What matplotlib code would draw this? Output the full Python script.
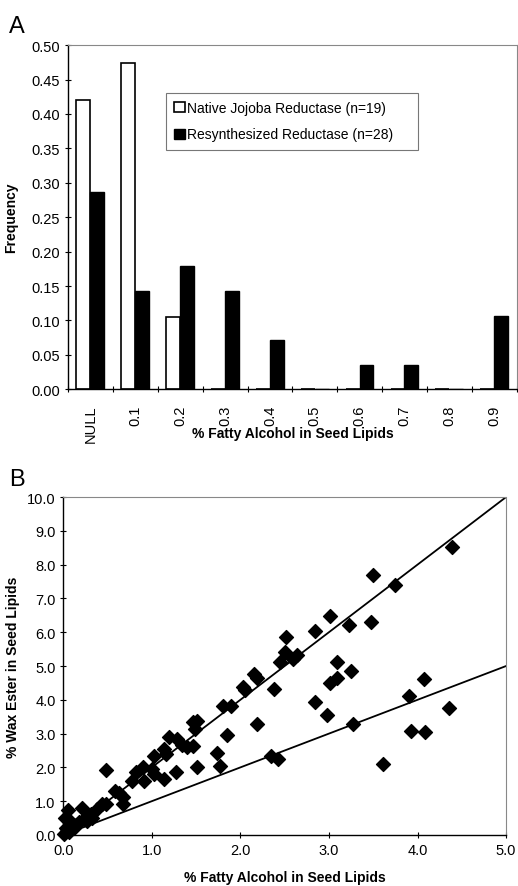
import matplotlib.pyplot as plt
import numpy as np

plt.rcParams['font.family'] = ['Liberation Sans', 'DejaVu Sans']

# Panel A: frequency distribution
categories = ["NULL", "0.1", "0.2", "0.3", "0.4", "0.5", "0.6", "0.7", "0.8", "0.9"]
native = [0.421, 0.474, 0.105, 0, 0, 0, 0, 0, 0, 0]
resynth = [0.286, 0.143, 0.179, 0.143, 0.071, 0, 0.036, 0.036, 0, 0.107]

# Panel B: fatty alcohol vs wax ester
fatty = [4.39, 3.50, 3.75, 3.01, 3.47, 3.23, 2.84, 2.52, 2.50, 2.45, 2.60, 2.64,
         3.09, 3.25, 3.09, 3.01, 4.07, 3.90, 2.84, 4.36, 2.98, 3.27, 3.93, 4.08,
         3.61, 2.38, 2.19, 2.15, 2.19, 2.03, 2.05, 1.80, 1.89, 1.85, 1.74, 1.77,
         1.51, 2.35, 2.42, 1.47, 1.51, 1.49, 1.46, 1.40, 1.34, 1.28, 1.20, 1.27,
         1.14, 1.14, 1.16, 1.02, 1.02, 1.00, 0.90, 0.91, 0.82, 0.78, 0.48, 0.59,
         0.63, 0.67, 0.67, 0.48, 0.44, 0.38, 0.31, 0.33, 0.21, 0.23, 0.18, 0.08,
         0.10, 0.05, 0.02, 0.03, 0.01, 0.04, 0.14, 0.27, 0.12, 0.06]
wax = [8.52, 7.70, 7.40, 6.47, 6.31, 6.20, 6.05, 5.85, 5.41, 5.11, 5.21, 5.33,
       5.11, 4.84, 4.66, 4.49, 4.63, 4.10, 3.95, 3.77, 3.56, 3.28, 3.08, 3.06,
       2.09, 4.32, 3.28, 4.76, 4.66, 4.37, 4.30, 3.82, 3.82, 2.96, 2.44, 2.05,
       2.02, 2.34, 2.26, 3.33, 3.38, 3.13, 2.64, 2.59, 2.66, 2.84, 2.91, 1.85,
       1.65, 2.54, 2.39, 2.34, 1.80, 1.95, 2.00, 1.60, 1.85, 1.60, 1.93, 1.30,
       1.25, 1.11, 0.91, 0.91, 0.93, 0.76, 0.61, 0.49, 0.81, 0.46, 0.37, 0.42,
       0.27, 0.73, 0.51, 0.22, 0.02, 0.12, 0.30, 0.40, 0.20, 0.08]
line_x = [0.0, 5.0]
slopes = [2.0, 1.0]

FS = 10.5

fig = plt.figure(figsize=(5.18, 8.87), dpi=100)


def style_axes(ax):
    for side in ["top", "right"]:
        ax.spines[side].set_color("#888888")
        ax.spines[side].set_linewidth(0.8)
        ax.spines[side].set_linestyle((0, (2, 1)))
    for side in ["left", "bottom"]:
        ax.spines[side].set_color("black")
        ax.spines[side].set_linewidth(1.0)
    ax.tick_params(direction="inout", length=5, width=0.8, labelsize=FS, pad=3)


# ---- Panel A ----
axA = fig.add_axes([0.131, 0.560, 0.867, 0.388])
x = np.arange(len(categories))
w = 0.31
axA.bar(x + 0.34, native, width=w, color="white", edgecolor="black", linewidth=1.2,
        label="Native Jojoba Reductase (n=19)")
axA.bar(x + 0.65, resynth, width=w, color="black", edgecolor="black", linewidth=1.0,
        label="Resynthesized Reductase (n=28)")
axA.set_xlim(0, len(categories))
axA.set_ylim(0, 0.5)
axA.set_yticks(np.arange(0, 0.51, 0.05))
axA.set_yticklabels([f"{v:.2f}" for v in np.arange(0, 0.51, 0.05)])
axA.set_xticks(np.arange(0, len(categories) + 1), minor=False)
axA.set_xticklabels([])
axA.set_xticks(x + 0.5, minor=True)
axA.set_xticklabels(categories, minor=True, rotation=90, fontsize=FS)
style_axes(axA)
axA.tick_params(axis="x", which="minor", length=0, pad=11)
axA.set_xlabel("% Fatty Alcohol in Seed Lipids", fontweight="bold", fontsize=10)
axA.xaxis.set_label_coords(0.5, -0.108)
axA.set_ylabel("Frequency", fontweight="bold", fontsize=10)
axA.yaxis.set_label_coords(-0.11, 0.5)
leg = axA.legend(loc="upper left", bbox_to_anchor=(0.218, 0.703, 0.562, 0.159),
                 mode="expand", fontsize=10, frameon=True, fancybox=False,
                 handlelength=0.75, handleheight=0.75, handletextpad=0.15,
                 borderpad=0.6, labelspacing=0.9, borderaxespad=0)
leg.get_frame().set_edgecolor("#555555")
leg.get_frame().set_linewidth(0.8)
fig.text(0.018, 0.963, "A", fontsize=17)

# ---- Panel B ----
axB = fig.add_axes([0.122, 0.0575, 0.855, 0.381])
for s in slopes:
    axB.plot(line_x, [s * v for v in line_x], color="black", linewidth=1.3)
axB.scatter(fatty, wax, marker="D", s=50, color="black", zorder=3, clip_on=False)
axB.set_xlim(0, 5)
axB.set_ylim(0, 10)
axB.set_xticks(np.arange(0, 5.1, 1.0))
axB.set_xticklabels([f"{v:.1f}" for v in np.arange(0, 5.1, 1.0)])
axB.set_yticks(np.arange(0, 10.1, 1.0))
axB.set_yticklabels([f"{v:.1f}" for v in np.arange(0, 10.1, 1.0)])
style_axes(axB)
axB.set_xlabel("% Fatty Alcohol in Seed Lipids", fontweight="bold", fontsize=10)
axB.xaxis.set_label_coords(0.5, -0.104)
axB.set_ylabel("% Wax Ester in Seed Lipids", fontweight="bold", fontsize=10)
axB.yaxis.set_label_coords(-0.097, 0.5)
fig.text(0.018, 0.452, "B", fontsize=17)

fig.savefig("out.png", dpi=100)
